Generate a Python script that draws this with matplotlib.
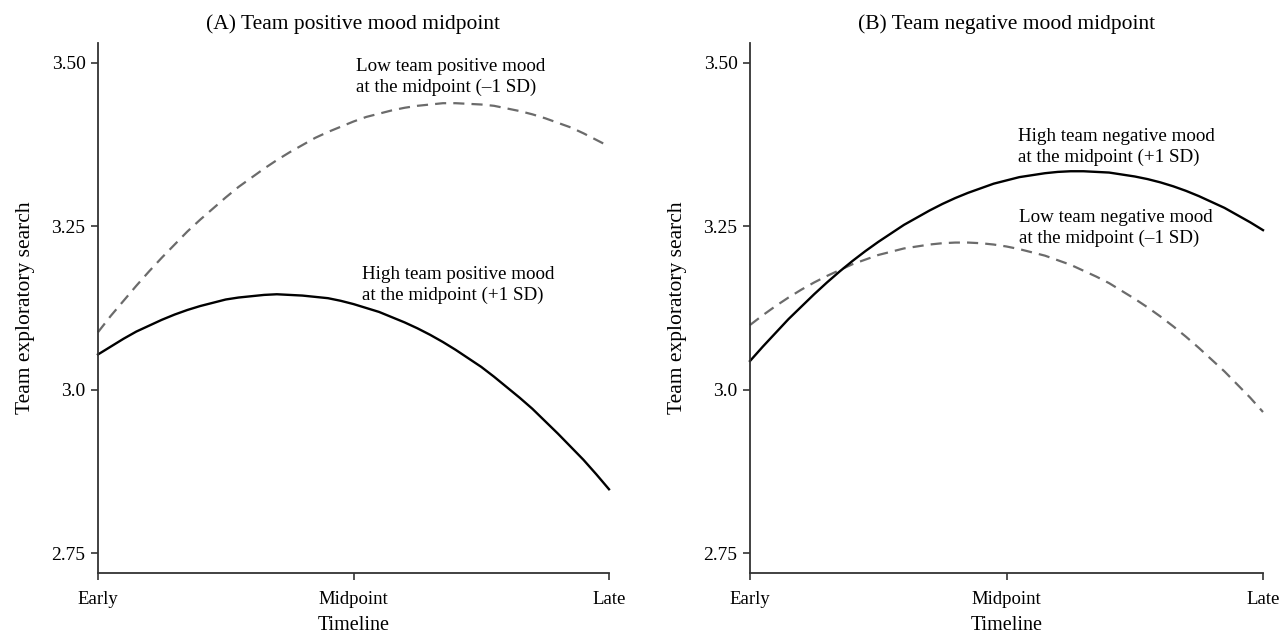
import matplotlib
matplotlib.use("Agg")
import matplotlib.pyplot as plt

plt.rcParams['font.family'] = ['Liberation Serif', 'DejaVu Serif']

# Timeline positions (Early = -1, Midpoint = 0, Late = 1)
timeline = [-1.0, -0.95, -0.9, -0.85, -0.8, -0.75, -0.7, -0.65, -0.6, -0.55, -0.5,
            -0.45, -0.4, -0.35, -0.3, -0.25, -0.2, -0.15, -0.1, -0.05, 0.0,
            0.05, 0.1, 0.15, 0.2, 0.25, 0.3, 0.35, 0.4, 0.45, 0.5,
            0.55, 0.6, 0.65, 0.7, 0.75, 0.8, 0.85, 0.9, 0.95, 1.0]
x_tick_labels = ["Early", "Midpoint", "Late"]
y_ticks = [2.75, 3.0, 3.25, 3.50]
y_tick_labels = ["2.75", "3.0", "3.25", "3.50"]

# (A) Team positive mood midpoint
pos_low = [3.088, 3.113, 3.136, 3.159, 3.181, 3.202, 3.222, 3.242, 3.260, 3.277, 3.294,
           3.310, 3.324, 3.338, 3.351, 3.363, 3.374, 3.385, 3.394, 3.402, 3.410,
           3.417, 3.422, 3.427, 3.431, 3.434, 3.436, 3.438, 3.438, 3.437, 3.436,
           3.434, 3.430, 3.426, 3.421, 3.415, 3.408, 3.401, 3.392, 3.382, 3.372]
pos_high = [3.054, 3.066, 3.078, 3.089, 3.098, 3.107, 3.115, 3.122, 3.128, 3.133, 3.138,
            3.141, 3.143, 3.145, 3.146, 3.145, 3.144, 3.142, 3.140, 3.136, 3.131,
            3.125, 3.119, 3.111, 3.103, 3.094, 3.084, 3.073, 3.061, 3.048, 3.035,
            3.020, 3.004, 2.988, 2.971, 2.952, 2.933, 2.913, 2.893, 2.871, 2.848]

# (B) Team negative mood midpoint
neg_high = [3.044, 3.066, 3.087, 3.108, 3.127, 3.146, 3.164, 3.181, 3.197, 3.212, 3.226,
            3.239, 3.252, 3.263, 3.274, 3.284, 3.293, 3.301, 3.308, 3.315, 3.320,
            3.325, 3.328, 3.331, 3.333, 3.334, 3.334, 3.333, 3.332, 3.329, 3.326,
            3.322, 3.317, 3.311, 3.304, 3.296, 3.287, 3.278, 3.267, 3.256, 3.244]
neg_low = [3.099, 3.114, 3.128, 3.141, 3.153, 3.164, 3.174, 3.183, 3.192, 3.199, 3.206,
           3.211, 3.216, 3.219, 3.222, 3.224, 3.225, 3.225, 3.224, 3.222, 3.219,
           3.215, 3.210, 3.205, 3.198, 3.191, 3.182, 3.173, 3.163, 3.151, 3.139,
           3.126, 3.112, 3.097, 3.081, 3.064, 3.046, 3.028, 3.008, 2.988, 2.966]

titles = ["(A) Team positive mood midpoint", "(B) Team negative mood midpoint"]
x_label = "Timeline"
y_label = "Team exploratory search"

W, H = 1286, 637
fig = plt.figure(figsize=(W / 100, H / 100), dpi=100)
ax1 = fig.add_axes([98 / W, 1 - 573 / H, (609 - 98) / W, (573 - 43) / H])
ax2 = fig.add_axes([750 / W, 1 - 573 / H, (1263 - 750) / W, (573 - 43) / H])

dash_color = "#6b6b6b"
spine_color = "#333333"

panels = [
    (ax1, pos_high, pos_low,
     [("Low team positive mood\nat the midpoint (\u20131 SD)", 0.01, 3.478),
      ("High team positive mood\nat the midpoint (+1 SD)", 0.035, 3.160)]),
    (ax2, neg_high, neg_low,
     [("High team negative mood\nat the midpoint (+1 SD)", 0.043, 3.371),
      ("Low team negative mood\nat the midpoint (\u20131 SD)", 0.05, 3.247)]),
]

for i, (ax, high, low, notes) in enumerate(panels):
    ax.plot(timeline, low, color=dash_color, lw=1.6, ls=(0, (5, 3.2)), clip_on=False)
    ax.plot(timeline, high, color="black", lw=1.7, clip_on=False)
    ax.set_xlim(-1, 1)
    ax.set_ylim(2.72, 3.53)
    ax.set_xticks([-1, 0, 1])
    ax.set_xticklabels(x_tick_labels, fontsize=13.5)
    ax.set_yticks(y_ticks)
    ax.set_yticklabels(y_tick_labels, fontsize=14)
    for s in ["top", "right"]:
        ax.spines[s].set_visible(False)
    for s in ["left", "bottom"]:
        ax.spines[s].set_color(spine_color)
        ax.spines[s].set_linewidth(1.3)
    ax.tick_params(direction="out", length=5, width=1.2, color=spine_color)
    ax.tick_params(axis="x", pad=8)
    ax.tick_params(axis="y", pad=4)
    ax.set_xlabel(x_label, fontsize=14.5, labelpad=6)
    ax.set_ylabel(y_label, fontsize=15.5, labelpad=12)
    ax.set_title(titles[i], fontsize=15.5, pad=10)
    for txt, tx, ty in notes:
        ax.text(tx, ty, txt, fontsize=13.7, ha="left", va="center", linespacing=1.28)

fig.savefig("out.png", dpi=100)
